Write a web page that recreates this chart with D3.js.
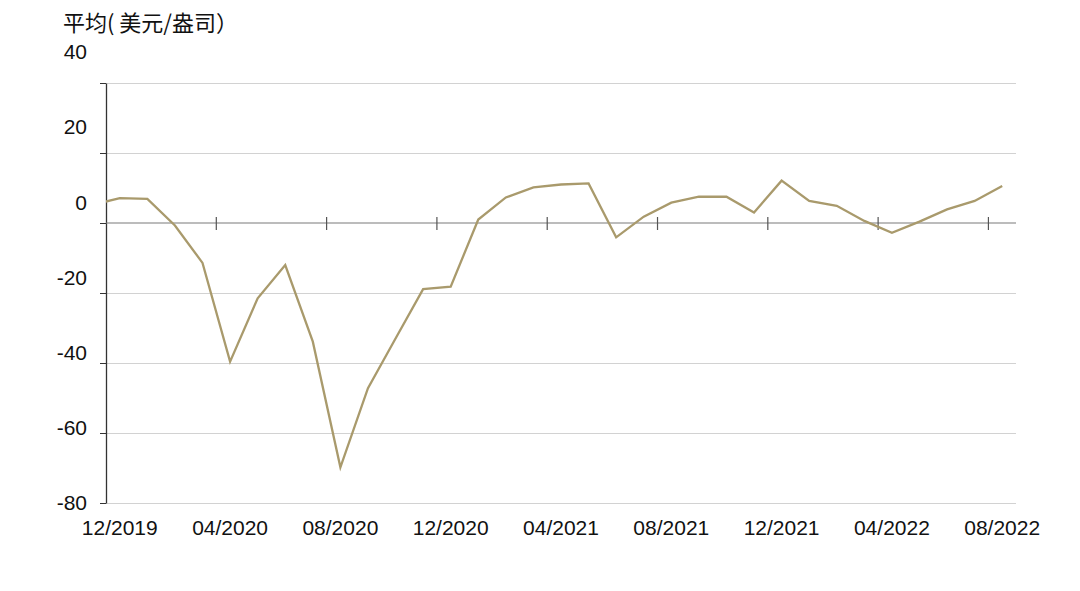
<!DOCTYPE html>
<html>
<head>
<meta charset="utf-8">
<script src="https://cdn.jsdelivr.net/npm/d3@7"></script>
<style>
  html, body { margin: 0; padding: 0; background: #fff; }
  svg { display: block; }
</style>
</head>
<body>
<div id="chart"></div>
<script>
// monthly series, 11/2019 .. 08/2022 (first point sits left of the axis and is clipped)
const months = [
  '11/2019', '12/2019',
  '01/2020', '02/2020', '03/2020', '04/2020', '05/2020', '06/2020',
  '07/2020', '08/2020', '09/2020', '10/2020', '11/2020', '12/2020',
  '01/2021', '02/2021', '03/2021', '04/2021', '05/2021', '06/2021',
  '07/2021', '08/2021', '09/2021', '10/2021', '11/2021', '12/2021',
  '01/2022', '02/2022', '03/2022', '04/2022', '05/2022', '06/2022',
  '07/2022', '08/2022'
]
const values = [
  5.2, 7.1,
  6.9, -0.7, -11.4, -39.6, -21.5, -12.0,
  -33.9, -69.8, -47.2, -33.0, -18.9, -18.2,
  1.0, 7.3, 10.2, 11.0, 11.3, -4.1,
  1.8, 5.8, 7.5, 7.5, 3.0, 12.1,
  6.3, 4.9, 0.6, -2.8, 0.4, 3.9,
  6.3, 10.6
]
const yTicks = [40, 20, 0, -20, -40, -60, -80]
const xLabelEvery = 4
const title = '平均( 美元/盎司）'

const W = 1080, H = 591
const m = { left: 106, right: 64, top: 83, bottom: 88 }
const lineColor = '#a99a6c'
const numFont = '"Liberation Sans", Arial, sans-serif'

// categories shown on the axis start at 12/2019
const cats = months.slice(1)
const data = months.map((mo, i) => ({ mo, i: i - 1, v: values[i] }))

const svg = d3.select('#chart').append('svg')
  .attr('width', W)
  .attr('height', H)

const x = d3.scaleLinear()
  .domain([-0.5, cats.length - 0.5])
  .range([m.left, W - m.right])
const y = d3.scaleLinear()
  .domain([-80, 40])
  .range([H - m.bottom, m.top])
// the value labels are spread a little wider than the gridlines
const yLab = d3.scaleLinear()
  .domain([-80, 40])
  .range([503, 52])

// gridlines
svg.append('g')
  .attr('transform', `translate(${m.left},0)`)
  .call(d3.axisLeft(y).tickValues(yTicks.filter(d => d !== 0)).tickSize(-(W - m.left - m.right)).tickFormat(''))
  .call(g => g.select('.domain').remove())
  .call(g => g.selectAll('line').attr('stroke', '#d2d2d2').attr('stroke-width', 1))

// y axis line + small outer ticks
svg.append('g')
  .attr('transform', `translate(${m.left},0)`)
  .call(d3.axisLeft(y).tickValues(yTicks).tickSize(6).tickSizeOuter(0).tickFormat(''))
  .call(g => g.select('.domain').attr('stroke', '#333').attr('stroke-width', 1.3))
  .call(g => g.selectAll('line').attr('stroke', '#333').attr('stroke-width', 1))

// y labels (plain hyphen for negatives)
svg.append('g')
  .attr('transform', `translate(${m.left - 19},0)`)
  .call(d3.axisLeft(yLab).tickValues(yTicks).tickSize(0).tickPadding(0).tickFormat(d => String(d)))
  .call(g => g.select('.domain').remove())
  .call(g => g.selectAll('text')
    .attr('fill', '#111')
    .style('font', `21px ${numFont}`))

// zero line with category boundary ticks
const zeroY = y(0)
const boundaries = d3.range(xLabelEvery, cats.length, xLabelEvery).map(k => k - 0.5)
svg.append('line')
  .attr('x1', m.left).attr('x2', W - m.right)
  .attr('y1', zeroY).attr('y2', zeroY)
  .attr('stroke', '#7a7a7a').attr('stroke-width', 1.2)
svg.append('g')
  .selectAll('line')
  .data(boundaries)
  .join('line')
  .attr('x1', d => x(d)).attr('x2', d => x(d))
  .attr('y1', zeroY - 6).attr('y2', zeroY + 7)
  .attr('stroke', '#555').attr('stroke-width', 1.2)

// x labels
svg.append('g')
  .selectAll('text')
  .data(cats.map((c, i) => ({ c, i })).filter(d => d.i % xLabelEvery === 0))
  .join('text')
  .attr('x', d => x(d.i))
  .attr('y', 528)
  .attr('dy', '0.35em')
  .attr('text-anchor', 'middle')
  .attr('fill', '#111')
  .style('font', `21px ${numFont}`)
  .text(d => d.c)

// series line, clipped to plot area
svg.append('clipPath')
  .attr('id', 'plot-clip')
  .append('rect')
  .attr('x', m.left).attr('y', 0)
  .attr('width', W - m.left - m.right).attr('height', H)

const line = d3.line()
  .x(d => x(d.i))
  .y(d => y(d.v))

svg.append('path')
  .datum(data)
  .attr('clip-path', 'url(#plot-clip)')
  .attr('fill', 'none')
  .attr('stroke', lineColor)
  .attr('stroke-width', 2.3)
  .attr('stroke-linejoin', 'miter')
  .attr('d', line)

// unit title
svg.append('text')
  .attr('x', 63)
  .attr('y', 23)
  .attr('dy', '0.35em')
  .attr('fill', '#111')
  .style('font', '22px "Noto Sans CJK SC", sans-serif')
  .text(title)
</script>
</body>
</html>
